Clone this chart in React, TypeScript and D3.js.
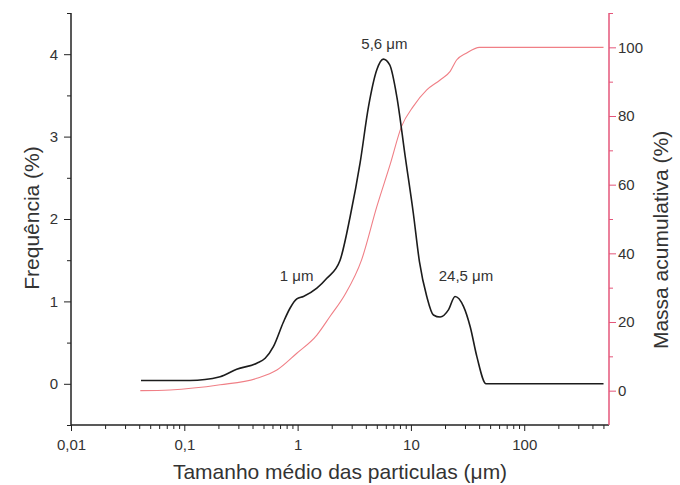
import React, { useEffect, useRef } from "react";
import * as d3 from "d3";

const freqSizes = [0.0415, 0.112, 0.207, 0.29, 0.436, 0.517, 0.611, 0.75, 0.859, 0.984, 1.125, 1.479, 1.81, 2.37, 2.91, 3.56, 4.22, 5.0, 5.7, 6.5, 7.52, 8.9, 10.5, 11.9, 13.8, 15.8, 18.1, 21.5, 24.5, 29.1, 33.4, 38.2, 46.1, 501];
const freqValues = [0.04, 0.04, 0.086, 0.176, 0.25, 0.31, 0.45, 0.75, 0.92, 1.03, 1.06, 1.16, 1.28, 1.5, 2.03, 2.68, 3.36, 3.81, 3.94, 3.87, 3.48, 2.76, 2.07, 1.48, 1.06, 0.835, 0.81, 0.9, 1.06, 0.94, 0.69, 0.33, 0.0, 0.0];

const cumSizes = [0.0409, 0.0749, 0.207, 0.436, 0.656, 0.984, 1.479, 1.93, 2.62, 3.67, 5.0, 6.6, 8.25, 10.5, 13.8, 18.1, 22.2, 25.3, 30.8, 40.3, 501];
const cumValues = [0, 0.2, 1.7, 3.6, 6.0, 10.9, 16.2, 21.6, 28, 38.1, 53.6, 66.2, 76.9, 82.8, 87.6, 90.5, 93, 96.3, 98.3, 100, 100];

const xTickValues = [0.01, 0.1, 1, 10, 100];
const xTickLabels = ["0,01", "0,1", "1", "10", "100"];
const leftTicks = [0, 1, 2, 3, 4];
const rightTicks = [0, 20, 40, 60, 80, 100];

const peakLabels = [
  { x: 1, y: 1.28, text: "1 μm" },
  { x: 5.6, y: 3.94, text: "5,6 μm" },
  { x: 24.5, y: 1.06, text: "24,5 μm" },
];

const W = 680, H = 485;
const L = 71, R = 609, T = 13, B = 425;
const FONT = "'Liberation Sans', Arial, sans-serif";
const TEXT = "#333";
const RED_AXIS = "#e4567a";
const RED_LINE = "#f07f86";

export default function App() {
  const ref = useRef<SVGSVGElement>(null);

  useEffect(() => {
    const svg = d3.select(ref.current);
    svg.selectAll("*").remove();

    const x = d3.scaleLog().domain([0.01, 560]).range([L, R]);
    const yL = d3.scaleLinear().domain([-0.5, 4.5]).range([B, T]);
    const yR = d3.scaleLinear().domain([-10, 110]).range([B, T]);

    const fmtX = (v: number) => {
      const i = xTickValues.findIndex((t) => Math.abs(t - v) / t < 1e-6);
      return i >= 0 ? xTickLabels[i] : "";
    };

    const allX = x.ticks();
    const isMajor = (v: number) => xTickValues.some((t) => Math.abs(t - v) / t < 1e-6);
    const gx = svg.append("g").attr("transform", `translate(0,${B})`);
    gx.call(
      d3.axisBottom(x).tickValues(allX.filter((v) => !isMajor(v))).tickSize(4).tickFormat(() => "")
    );
    const gx2 = svg.append("g").attr("transform", `translate(0,${B})`);
    gx2.call(d3.axisBottom(x).tickValues(xTickValues).tickSize(6).tickPadding(8).tickFormat(fmtX as any));
    gx2.select(".domain").remove();
    gx.select(".domain").attr("stroke", "#222").attr("stroke-width", 1.5).attr("d", `M${L},0H${R}`);

    const gl = svg.append("g").attr("transform", `translate(${L},0)`);
    gl.call(d3.axisLeft(yL).tickValues([-0.5, 0.5, 1.5, 2.5, 3.5, 4.5]).tickSize(4).tickFormat(() => ""));
    gl.select(".domain").attr("stroke", "#222").attr("stroke-width", 1.5).attr("d", `M0,${T}V${B}`);
    const gl2 = svg.append("g").attr("transform", `translate(${L},0)`);
    gl2.call(d3.axisLeft(yL).tickValues(leftTicks).tickSize(7).tickPadding(6).tickFormat(d3.format("d") as any));
    gl2.select(".domain").remove();

    const gr = svg.append("g").attr("transform", `translate(${R},0)`);
    gr.call(d3.axisRight(yR).tickValues([10, 30, 50, 70, 90, 110]).tickSize(4).tickFormat(() => ""));
    gr.select(".domain").attr("stroke", RED_AXIS).attr("stroke-width", 1.5).attr("d", `M0,${T}V${B}`);
    gr.selectAll(".tick line").attr("stroke", RED_AXIS);
    const gr2 = svg.append("g").attr("transform", `translate(${R},0)`);
    gr2.call(d3.axisRight(yR).tickValues(rightTicks).tickSize(7).tickPadding(2).tickFormat(d3.format("d") as any));
    gr2.select(".domain").remove();
    gr2.selectAll(".tick line").attr("stroke", RED_AXIS);

    [gx, gx2, gl, gl2].forEach((g) => g.selectAll(".tick line").attr("stroke", "#222"));
    [gx2, gl2, gr2].forEach((g) =>
      g.selectAll(".tick text").attr("font-family", FONT).attr("font-size", 15).attr("fill", TEXT)
    );

    const cumData = cumSizes.map((s, i) => ({ s, v: cumValues[i] }));
    const freqData = freqSizes.map((s, i) => ({ s, v: freqValues[i] }));
    svg.append("path")
      .datum(cumData)
      .attr("fill", "none")
      .attr("stroke", RED_LINE)
      .attr("stroke-width", 1.1)
      .attr("d", d3.line<{ s: number; v: number }>().x((d) => x(d.s)).y((d) => yR(d.v)).curve(d3.curveMonotoneX)(cumData)!);
    svg.append("path")
      .datum(freqData)
      .attr("fill", "none")
      .attr("stroke", "#1c1c1c")
      .attr("stroke-width", 1.6)
      .attr("d", d3.line<{ s: number; v: number }>().x((d) => x(d.s)).y((d) => yL(d.v)).curve(d3.curveMonotoneX)(freqData)!);

    const offs = [{ dx: -1, dy: 3 }, { dx: 2, dy: -10 }, { dx: 11, dy: -15 }];
    peakLabels.forEach((p, i) => {
      svg.append("text")
        .attr("x", x(p.x) + offs[i].dx)
        .attr("y", yL(p.y) + offs[i].dy)
        .attr("text-anchor", "middle")
        .attr("font-family", FONT)
        .attr("font-size", 15)
        .attr("fill", TEXT)
        .text(p.text);
    });

    svg.append("text")
      .attr("x", (L + R) / 2)
      .attr("y", 479)
      .attr("text-anchor", "middle")
      .attr("font-family", FONT)
      .attr("font-size", 21)
      .attr("fill", TEXT)
      .text("Tamanho médio das particulas (μm)");
    svg.append("text")
      .attr("transform", `translate(39,${218}) rotate(-90)`)
      .attr("text-anchor", "middle")
      .attr("font-family", FONT)
      .attr("font-size", 21)
      .attr("fill", TEXT)
      .text("Frequência (%)");
    svg.append("text")
      .attr("transform", `translate(668,${240}) rotate(-90)`)
      .attr("text-anchor", "middle")
      .attr("font-family", FONT)
      .attr("font-size", 21)
      .attr("fill", TEXT)
      .text("Massa acumulativa (%)");
  }, []);

  return (
    <svg
      ref={ref}
      width={W}
      height={H}
      style={{ position: "fixed", left: 0, top: 0, background: "#fff" }}
    />
  );
}
